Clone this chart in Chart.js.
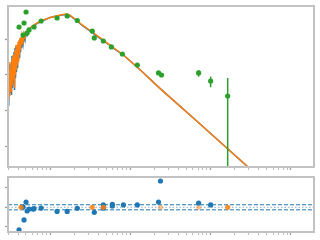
<!DOCTYPE html>
<html>
<head>
<meta charset="utf-8">
<script src="https://cdn.jsdelivr.net/npm/chart.js@4.4.1/dist/chart.umd.min.js"></script>
<style>
  html, body { margin: 0; padding: 0; background: #fff; }
  #sed   { position: absolute; left: 0; top: 0; }
  #resid { position: absolute; left: 0; top: 172px; }
</style>
</head>
<body>
<canvas id="sed" width="320" height="172"></canvas>
<canvas id="resid" width="320" height="68"></canvas>
<script>
// ── Data: wavelength in µm, flux density in Jy ─────────────────

// observed spectrum (blue)
const specWave = [0.290, 0.294, 0.2985, 0.303, 0.307, 0.312, 0.316, 0.321, 0.326, 0.330,
  0.335, 0.340, 0.345, 0.350, 0.355, 0.360, 0.365, 0.370, 0.376, 0.381,
  0.387, 0.393, 0.398, 0.404, 0.410, 0.416, 0.422, 0.428, 0.434, 0.440,
  0.447, 0.460, 0.473, 0.487, 0.501, 0.516, 0.531, 0.596, 0.668, 0.794,
  1.0, 1.26, 1.41, 1.59, 1.78, 2.05, 2.51, 3.16, 4.22, 5.31, 5.96,
  8.18, 13.3, 23.7, 75, 316];
const specFlux = [0.00444, 0.154, 0.0142, 0.119, 0.0222, 0.071, 0.200, 0.0307, 0.175, 0.027,
  0.334, 0.0424, 0.258, 0.055, 0.432, 0.0373, 0.560, 0.081, 0.637, 0.119,
  0.679, 0.154, 0.724, 0.258, 0.879, 0.294, 1.00, 0.432, 1.07, 0.560,
  1.21, 0.724, 1.29, 0.937, 1.47, 1.29, 1.67, 2.24, 2.63, 3.19,
  4.0, 4.47, 4.70, 4.86, 4.41, 3.52, 2.39, 1.67, 1.03, 0.724, 0.578,
  0.356, 0.135, 0.040, 0.00403, 0.000221];

// model SED (orange)
const modelWave = [0.294, 0.2985, 0.303, 0.307, 0.312, 0.316, 0.321, 0.326, 0.330, 0.335,
  0.340, 0.345, 0.350, 0.355, 0.360, 0.365, 0.370, 0.376, 0.381, 0.387,
  0.393, 0.398, 0.404, 0.410, 0.416, 0.422, 0.428, 0.434, 0.440, 0.447,
  0.460, 0.473, 0.487, 0.501, 0.516, 0.531, 0.596, 0.668, 0.794, 1.0,
  1.26, 1.50, 1.63, 1.78, 2.05, 2.51, 3.16, 4.22, 5.96, 8.18,
  13.3, 23.7, 75, 316];
const modelFlux = [0.0103, 0.135, 0.0196, 0.098, 0.027, 0.227, 0.0424, 0.135, 0.0327, 0.294,
  0.0514, 0.356, 0.071, 0.258, 0.0424, 0.492, 0.098, 0.679, 0.135, 0.560,
  0.187, 0.824, 0.227, 0.937, 0.356, 1.07, 0.492, 1.14, 0.679, 1.21,
  0.824, 1.38, 1.07, 1.57, 1.47, 1.79, 2.31, 2.72, 3.30, 4.0,
  4.55, 4.92, 5.0, 4.55, 3.63, 2.47, 1.73, 1.07, 0.60, 0.356,
  0.135, 0.040, 0.00403, 0.000221];

// photometry (green), 0 error = no bar drawn
const photWave = [0.410, 0.460, 0.473, 0.501, 0.516, 0.546, 0.631, 0.772, 1.22, 1.63,
  2.18, 3.35, 3.55, 4.6, 5.79, 7.94, 12.2, 22.4, 24.4, 70.8, 100, 163];
const photFlux = [2.17, 1.29, 2.81, 5.71, 1.47, 1.79, 2.17, 3.19, 3.87, 4.41,
  3.30, 1.67, 1.07, 0.88, 0.60, 0.38, 0.187, 0.112, 0.098, 0.112, 0.0666, 0.0253];
const photErr = [0, 0, 0, 0, 0, 0, 0, 0, 0, 0,
  0, 0, 0, 0, 0, 0, 0, 0, 0, 0.024, 0.022, 0.056];

// residuals (blue) and excluded points (orange)
const residWave = [0.410, 0.460, 0.473, 0.501, 0.516, 0.546, 0.613, 0.631, 0.772, 1.22,
  1.63, 2.18, 3.55, 4.6, 4.6, 5.96, 5.96, 8.18, 12.2, 22.4, 23.7, 70.8, 100];
const residVal = [-1.16, 0.02, -0.65, 0.27, -0.19, -0.09, -0.09, -0.07, -0.04, -0.21,
  -0.21, -0.05, -0.26, 0.12, -0.05, 0.15, 0.07, 0.12, 0.12, 0.27, 1.35, 0.22, 0.12];
const excludedWave = [0.434, 3.35, 4.6, 163];
const excludedVal = [0, 0, 0, 0];
const fadedWave = [23.7, 70.8];
const fadedVal = [0, 0];

const bandLevels = [0.13, -0.13];
const zeroLevel = [0];

// ticks (no labels drawn in the reference)
const xMajor = [0.1, 1, 10, 100, 1000];
const yMajorSed = [0.001, 0.01, 0.1, 1];
const yMajorResid = [-1, 0, 1];

const X_MIN = 0.2985, X_MAX = 1939;
const BLUE = '#1f77b4', ORANGE = '#ff7f0e', GREEN = '#2ca02c';

// ── Helpers ──────────────────────────────────────────────────

const pts = (xs, ys) => xs.map((x, i) => ({ x, y: ys[i] }));

function logTicks(majors, min, max, withMinor) {
  const out = [];
  majors.forEach(m => {
    out.push({ value: m, major: true });
    if (withMinor) for (let k = 2; k <= 9; k++) out.push({ value: m * k, major: false });
  });
  return out.filter(t => t.value >= min && t.value <= max);
}

const tickGrid = {
  drawOnChartArea: false,
  tickLength: 3,
  tickColor: c => (c.tick && c.tick.major ? '#9c9c9c' : '#bdbdbd'),
  tickWidth: c => (c.tick && c.tick.major ? 1.3 : 1),
};

// light grey box round the plot area, like matplotlib spines
const frame = {
  id: 'frame',
  afterDraw(chart) {
    const { ctx, chartArea: a } = chart;
    ctx.save();
    ctx.strokeStyle = '#c2c2c2';
    ctx.lineWidth = 2;
    ctx.strokeRect(a.left, a.top, a.right - a.left, a.bottom - a.top);
    ctx.restore();
  },
};

const errorBars = {
  id: 'errorBars',
  afterDatasetsDraw(chart) {
    const { ctx, chartArea: a, scales: { x, y } } = chart;
    ctx.save();
    ctx.beginPath();
    ctx.rect(a.left, a.top, a.right - a.left, a.bottom - a.top);
    ctx.clip();
    ctx.strokeStyle = GREEN;
    ctx.lineWidth = 1.5;
    photWave.forEach((w, i) => {
      const e = photErr[i];
      if (!e) return;
      const px = x.getPixelForValue(w);
      const hi = y.getPixelForValue(photFlux[i] + e);
      const lo = photFlux[i] - e > 0 ? y.getPixelForValue(photFlux[i] - e) : a.bottom;
      ctx.beginPath();
      ctx.moveTo(px, hi);
      ctx.lineTo(px, lo);
      ctx.stroke();
    });
    ctx.restore();
  },
};

const xAxis = (h) => ({
  type: 'logarithmic', min: X_MIN, max: X_MAX, bounds: 'data',
  afterBuildTicks: s => { s.ticks = logTicks(xMajor, X_MIN, X_MAX, true); },
  afterFit: s => { s.height = h; },
  ticks: { display: false },
  grid: tickGrid,
  border: { display: false },
});

const baseOpts = {
  responsive: false,
  animation: false,
  devicePixelRatio: 1,
  plugins: { legend: { display: false }, tooltip: { enabled: false } },
};

// ── SED panel ────────────────────────────────────────────────
// higher `order` is drawn first (underneath)

new Chart(document.getElementById('sed'), {
  type: 'line',
  data: {
    datasets: [
      { data: pts(specWave, specFlux), order: 3, borderColor: BLUE, borderWidth: 1.5, pointRadius: 0 },
      { data: pts(modelWave, modelFlux), order: 2, borderColor: ORANGE, borderWidth: 1.5, pointRadius: 0 },
      { data: pts(photWave, photFlux), order: 1, showLine: false, pointRadius: 2.6,
        pointBackgroundColor: GREEN, pointBorderWidth: 0 },
    ],
  },
  options: {
    ...baseOpts,
    layout: { padding: { left: 0, right: 6, top: 6, bottom: 0 } },
    scales: {
      x: xAxis(5),
      y: {
        type: 'logarithmic', min: 2.60e-4, max: 8.40, bounds: 'data',
        afterBuildTicks: s => { s.ticks = yMajorSed.map(v => ({ value: v, major: true })); },
        afterFit: s => { s.width = 8; },
        ticks: { display: false },
        grid: tickGrid,
        border: { display: false },
      },
    },
  },
  plugins: [errorBars, frame],
});

// ── Residual panel ───────────────────────────────────────────

const hLine = (lvl, color, dash) => ({
  data: [{ x: X_MIN, y: lvl }, { x: X_MAX, y: lvl }], order: 5,
  borderColor: color, borderWidth: 1, borderDash: dash, pointRadius: 0,
});

new Chart(document.getElementById('resid'), {
  type: 'line',
  data: {
    datasets: [
      ...zeroLevel.map(l => hLine(l, '#8fb0cc', [1.5, 2])),
      ...bandLevels.map(l => hLine(l, BLUE, [4, 2])),
      { data: pts(fadedWave, fadedVal), order: 3, showLine: false, pointRadius: 2.6,
        pointBackgroundColor: 'rgba(255,127,14,0.45)', pointBorderWidth: 0 },
      { data: pts(residWave, residVal), order: 2, showLine: false, pointRadius: 2.6,
        pointBackgroundColor: BLUE, pointBorderWidth: 0 },
      { data: pts(excludedWave, excludedVal), order: 1, showLine: false, pointRadius: 2.6,
        pointBackgroundColor: 'rgba(255,127,14,0.85)', pointBorderWidth: 0 },
    ],
  },
  options: {
    ...baseOpts,
    layout: { padding: { left: 0, right: 6, top: 5, bottom: 0 } },
    scales: {
      x: xAxis(8),
      y: {
        type: 'linear', min: -1.267, max: 1.554,
        afterBuildTicks: s => { s.ticks = yMajorResid.map(v => ({ value: v, major: true })); },
        afterFit: s => { s.width = 8; },
        ticks: { display: false },
        grid: tickGrid,
        border: { display: false },
      },
    },
  },
  plugins: [frame],
});
</script>
</body>
</html>
